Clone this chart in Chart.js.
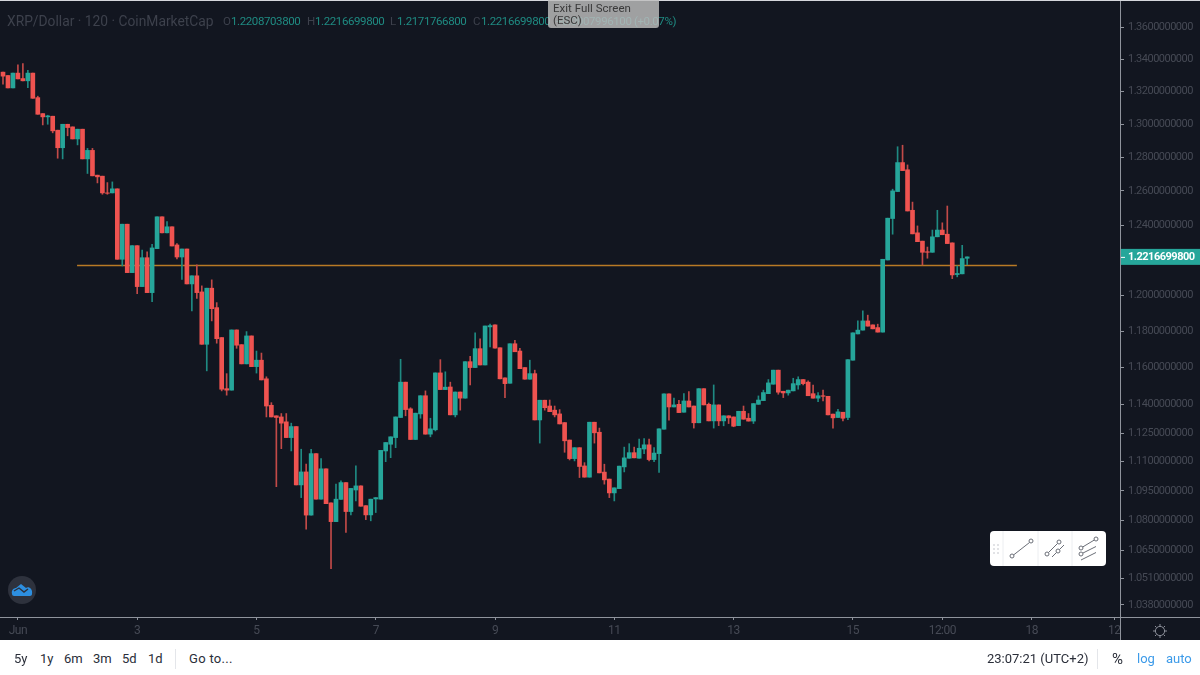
<!DOCTYPE html>
<html>
<head>
<meta charset="utf-8">
<title>XRP/Dollar</title>
<script src="https://cdn.jsdelivr.net/npm/chart.js@4"></script>
<style>
    html, body { margin: 0; padding: 0; background: #fff; width: 1200px; height: 675px; overflow: hidden; }
    body { position: relative; font-family: Roboto, sans-serif; }
    #chart { position: absolute; left: 0; top: 0; }
    .abs { position: absolute; white-space: nowrap; }
    .head { top: 14px; font-size: 11.5px; line-height: 15px; letter-spacing: -0.4px; }
    .name { font-size: 13.8px; letter-spacing: 0; }
    .dim { color: #3d414c; }
    .val { color: #1f8b82; }
    #exit { left: 548px; top: 0; width: 111px; height: 28px; background: rgba(190, 190, 190, 0.82); border-radius: 0 0 3px 3px; color: #3a3a3a; font-size: 11.5px; line-height: 12px; padding: 2px 0 0 5px; box-sizing: border-box; }
    .bar-text { top: 651px; font-size: 13px; line-height: 16px; color: #2a2e39; }
    .blue { color: #3d9be9; }
    .sep { width: 1px; height: 20px; top: 649px; background: #e4e6ea; }
    #tools { left: 990px; top: 531px; width: 116px; height: 35px; background: #fff; border-radius: 4px; }
</style>
</head>
<body>
<canvas id="chart" width="1200" height="640"></canvas>

<div class="abs" style="left:0;top:0;width:1200px;height:1px;background:#d5d7dc"></div>

<div class="abs head name dim" style="left:7px">XRP/Dollar · 120 · CoinMarketCap</div>
<div class="abs head dim" style="left:223px">O</div><div class="abs head val" style="left:231px">1.2208703800</div>
<div class="abs head dim" style="left:307px">H</div><div class="abs head val" style="left:315px">1.2216699800</div>
<div class="abs head dim" style="left:390px">L</div><div class="abs head val" style="left:397px">1.2171766800</div>
<div class="abs head dim" style="left:473px">C</div><div class="abs head val" style="left:481px">1.2216699800</div>
<div class="abs head val" style="left:556px">+0.0007996100 (+0.07%)</div>
<div class="abs" id="exit">Exit Full Screen<br>(ESC)</div>

<svg class="abs" style="left:8px;top:576px" width="28" height="28" viewBox="0 0 28 28">
    <circle cx="14" cy="14" r="14" fill="#2e323d"/>
    <path d="M4 18 C3 14 6 12 8 12 L13 8 L18 12 C20 10 25 12 24 18 C24 19 23 20 22 20 L6 20 C5 20 4 19 4 18 Z" fill="#2d8fe0"/>
    <path d="M6 15 L11 12 L16 16 L20 13" fill="none" stroke="#2e323d" stroke-width="1.4"/>
</svg>

<svg class="abs" style="left:1152px;top:623px" width="16" height="16" viewBox="0 0 16 16">
    <circle cx="8" cy="8" r="4.6" fill="none" stroke="#8b8f99" stroke-width="1"/>
    <path d="M8 1 V3 M8 13 V15 M1 8 H3 M13 8 H15 M3 3 L4.5 4.5 M11.5 11.5 L13 13 M13 3 L11.5 4.5 M3 13 L4.5 11.5" stroke="#8b8f99" stroke-width="1"/>
</svg>

<div class="abs" id="tools">
    <svg width="116" height="35" viewBox="0 0 116 35">
        <g fill="#d8dade">
            <circle cx="4" cy="14" r="1"/><circle cx="8" cy="14" r="1"/>
            <circle cx="4" cy="18" r="1"/><circle cx="8" cy="18" r="1"/>
            <circle cx="4" cy="22" r="1"/><circle cx="8" cy="22" r="1"/>
        </g>
        <path d="M13 0 V35 M48 0 V35 M82 0 V35" stroke="#eceef1"/>
        <g fill="none" stroke="#6b6f78" stroke-width="1">
            <circle cx="22" cy="25" r="2"/><circle cx="41" cy="10" r="2"/><path d="M23.5 24 L39.5 11.5"/>
            <circle cx="57" cy="23" r="2"/><circle cx="69" cy="11" r="2"/><path d="M58.5 21.5 L67.5 12.5"/>
            <circle cx="68" cy="20" r="2"/><path d="M66.5 21.5 L62 26 M69.5 18.5 L74 14"/>
            <circle cx="91" cy="17" r="2"/><circle cx="106" cy="8" r="2"/><path d="M92.7 16 L104.3 9"/>
            <circle cx="91" cy="23" r="2"/><path d="M93 22 L106 15.5 M91 29 L106 21.5"/>
        </g>
    </svg>
</div>

<div class="abs bar-text" style="left:14px">5y</div>
<div class="abs bar-text" style="left:40px">1y</div>
<div class="abs bar-text" style="left:64px">6m</div>
<div class="abs bar-text" style="left:93px">3m</div>
<div class="abs bar-text" style="left:122px">5d</div>
<div class="abs bar-text" style="left:148px">1d</div>
<div class="abs sep" style="left:175px"></div>
<div class="abs bar-text" style="left:189px;letter-spacing:0.3px">Go to...</div>
<div class="abs bar-text" style="left:987px">23:07:21 (UTC+2)</div>
<div class="abs sep" style="left:1097px"></div>
<div class="abs bar-text" style="left:1112px;font-size:15px">%</div>
<div class="abs bar-text blue" style="left:1137px">log</div>
<div class="abs bar-text blue" style="left:1166px">auto</div>

<script>
    // 2h candles, oldest first
    const opens = [
        1.3320,1.3299,1.3222,1.3314,1.3280,1.3266,1.3314,1.3162,1.3064,1.3044,
        1.3048,1.2963,1.2857,1.2999,1.2983,1.2910,1.2969,1.2790,1.2841,1.2693,
        1.2687,1.2588,1.2588,1.2612,1.2203,1.2405,1.2127,1.2281,1.2048,1.2212,
        1.2014,1.2264,1.2448,1.2355,1.2390,1.2285,1.2216,1.2262,1.2063,1.2109,
        1.2018,1.1727,1.2039,1.1930,1.1764,1.1486,1.1478,1.1806,1.1725,1.1620,
        1.1773,1.1605,1.1640,1.1539,1.1397,1.1341,1.1335,1.1309,1.1226,1.1284,
        1.0980,1.1047,1.0826,1.1142,1.0907,1.1063,1.0888,1.0793,1.0906,1.0992,
        1.0844,1.0954,1.0975,1.0874,1.0827,1.0908,1.0907,1.1156,1.1191,1.1226,
        1.1332,1.1521,1.1378,1.1216,1.1351,1.1448,1.1244,1.1267,1.1571,1.1481,
        1.1495,1.1346,1.1468,1.1435,1.1632,1.1600,1.1703,1.1614,1.1823,1.1834,
        1.1708,1.1544,1.1515,1.1730,1.1690,1.1600,1.1537,1.1567,1.1319,1.1424,
        1.1393,1.1371,1.1351,1.1305,1.1213,1.1116,1.1173,1.1078,1.1020,1.1307,
        1.1254,1.1046,1.1010,1.0939,1.0961,1.1073,1.1118,1.1147,1.1118,1.1166,
        1.1188,1.1111,1.1142,1.1270,1.1458,1.1388,1.1402,1.1360,1.1420,1.1393,
        1.1304,1.1486,1.1402,1.1314,1.1399,1.1314,1.1341,1.1335,1.1289,1.1365,
        1.1328,1.1313,1.1402,1.1422,1.1459,1.1510,1.1586,1.1472,1.1463,1.1474,
        1.1506,1.1535,1.1521,1.1459,1.1435,1.1448,1.1445,1.1350,1.1332,1.1360,
        1.1332,1.1640,1.1784,1.1805,1.1856,1.1834,1.1819,1.1794,1.2199,1.2438,
        1.2596,1.2768,1.2725,1.2486,1.2355,1.2307,1.2246,1.2243,1.2332,1.2371,
        1.2347,1.2297,1.2116,1.2120,1.22087
    ];
    const highs = [
        1.3320,1.3299,1.3314,1.3365,1.3373,1.3332,1.3314,1.3171,1.3064,1.3054,
        1.3048,1.2963,1.2999,1.2999,1.2983,1.2969,1.2969,1.2853,1.2853,1.2693,
        1.2687,1.2649,1.2653,1.2612,1.2405,1.2405,1.2281,1.2281,1.2255,1.2245,
        1.2289,1.2448,1.2448,1.2420,1.2390,1.2293,1.2262,1.2262,1.2109,1.2171,
        1.2052,1.2039,1.2086,1.1958,1.1764,1.1567,1.1806,1.1806,1.1725,1.1797,
        1.1773,1.1690,1.1679,1.1550,1.1411,1.1341,1.1353,1.1353,1.1302,1.1284,
        1.1165,1.1087,1.1165,1.1142,1.1116,1.1063,1.0888,1.0984,1.1001,1.0992,
        1.0962,1.1078,1.0975,1.0874,1.0907,1.0915,1.1159,1.1200,1.1230,1.1335,
        1.1645,1.1521,1.1384,1.1355,1.1448,1.1474,1.1328,1.1571,1.1643,1.1577,
        1.1521,1.1468,1.1468,1.1632,1.1661,1.1790,1.1757,1.1828,1.1838,1.1834,
        1.1708,1.1544,1.1730,1.1749,1.1705,1.1600,1.1640,1.1586,1.1424,1.1424,
        1.1425,1.1393,1.1374,1.1305,1.1213,1.1173,1.1173,1.1095,1.1307,1.1307,
        1.1276,1.1087,1.1010,1.0965,1.1077,1.1176,1.1194,1.1176,1.1218,1.1221,
        1.1218,1.1173,1.1272,1.1458,1.1458,1.1435,1.1424,1.1459,1.1470,1.1393,
        1.1486,1.1486,1.1409,1.1506,1.1399,1.1341,1.1341,1.1335,1.1365,1.1393,
        1.1353,1.1406,1.1447,1.1478,1.1535,1.1586,1.1586,1.1472,1.1478,1.1542,
        1.1550,1.1535,1.1528,1.1505,1.1465,1.1478,1.1445,1.1350,1.1376,1.1360,
        1.1643,1.1790,1.1856,1.1912,1.1888,1.1834,1.1838,1.2203,1.2440,1.2610,
        1.2863,1.2872,1.2754,1.2534,1.2395,1.2307,1.2273,1.2371,1.2486,1.2413,
        1.2511,1.2297,1.2165,1.2283,1.22167
    ];
    const lows = [
        1.3245,1.3222,1.3222,1.3278,1.3266,1.3224,1.3158,1.3060,1.2995,1.2999,
        1.2947,1.2794,1.2790,1.2929,1.2910,1.2874,1.2790,1.2703,1.2689,1.2647,
        1.2580,1.2580,1.2588,1.2203,1.2165,1.2127,1.2127,1.2008,1.2048,1.2014,
        1.1963,1.2264,1.2355,1.2355,1.2279,1.2205,1.2088,1.2063,1.1912,1.1982,
        1.1727,1.1582,1.1856,1.1733,1.1474,1.1451,1.1478,1.1705,1.1620,1.1620,
        1.1605,1.1570,1.1533,1.1335,1.1335,1.0971,1.1168,1.1226,1.1156,1.0980,
        1.0915,1.0755,1.0826,1.0907,1.0907,1.0884,1.0558,1.0793,1.0906,1.0738,
        1.0827,1.0898,1.0871,1.0803,1.0797,1.0839,1.0907,1.1100,1.1121,1.1173,
        1.1332,1.1341,1.1216,1.1216,1.1328,1.1244,1.1230,1.1261,1.1481,1.1481,
        1.1346,1.1335,1.1371,1.1435,1.1506,1.1600,1.1614,1.1614,1.1712,1.1706,
        1.1539,1.1438,1.1515,1.1686,1.1594,1.1537,1.1537,1.1319,1.1197,1.1371,
        1.1363,1.1335,1.1298,1.1149,1.1109,1.1104,1.1018,1.1020,1.1020,1.1197,
        1.1042,1.0984,1.0915,1.0898,1.0961,1.1047,1.1118,1.1120,1.1118,1.1142,
        1.1104,1.1100,1.1044,1.1270,1.1318,1.1388,1.1358,1.1360,1.1388,1.1276,
        1.1304,1.1399,1.1314,1.1276,1.1289,1.1288,1.1300,1.1283,1.1289,1.1323,
        1.1313,1.1300,1.1402,1.1422,1.1459,1.1510,1.1456,1.1438,1.1451,1.1474,
        1.1483,1.1506,1.1448,1.1435,1.1416,1.1420,1.1346,1.1276,1.1332,1.1314,
        1.1321,1.1640,1.1784,1.1805,1.1827,1.1812,1.1794,1.1794,1.2199,1.2347,
        1.2596,1.2720,1.2482,1.2349,1.2304,1.2171,1.2209,1.2243,1.2332,1.2344,
        1.2293,1.2093,1.2103,1.2120,1.21718
    ];
    const closes = [
        1.3295,1.3222,1.3314,1.3278,1.3266,1.3314,1.3158,1.3060,1.3044,1.3050,
        1.2959,1.2857,1.2999,1.2979,1.2910,1.2969,1.2790,1.2841,1.2689,1.2683,
        1.2588,1.2586,1.2612,1.2203,1.2405,1.2127,1.2281,1.2048,1.2212,1.2014,
        1.2268,1.2448,1.2355,1.2390,1.2279,1.2216,1.2262,1.2063,1.2109,1.2014,
        1.1727,1.2039,1.1924,1.1758,1.1483,1.1478,1.1806,1.1722,1.1620,1.1773,
        1.1605,1.1640,1.1533,1.1393,1.1335,1.1332,1.1302,1.1226,1.1284,1.0980,
        1.1047,1.0826,1.1142,1.0907,1.1063,1.0884,1.0793,1.0907,1.0992,1.0844,
        1.0962,1.0975,1.0871,1.0827,1.0907,1.0915,1.1159,1.1200,1.1230,1.1335,
        1.1521,1.1374,1.1216,1.1355,1.1448,1.1244,1.1272,1.1571,1.1481,1.1494,
        1.1346,1.1468,1.1435,1.1632,1.1600,1.1703,1.1614,1.1828,1.1830,1.1706,
        1.1539,1.1513,1.1730,1.1686,1.1594,1.1537,1.1567,1.1319,1.1424,1.1384,
        1.1363,1.1346,1.1298,1.1209,1.1116,1.1173,1.1075,1.1020,1.1307,1.1251,
        1.1042,1.1006,1.0939,1.0965,1.1077,1.1120,1.1147,1.1120,1.1170,1.1188,
        1.1111,1.1145,1.1272,1.1458,1.1388,1.1399,1.1358,1.1420,1.1388,1.1304,
        1.1486,1.1399,1.1314,1.1399,1.1314,1.1341,1.1330,1.1286,1.1365,1.1323,
        1.1313,1.1406,1.1425,1.1465,1.1517,1.1586,1.1467,1.1463,1.1478,1.1513,
        1.1535,1.1513,1.1448,1.1435,1.1448,1.1445,1.1346,1.1330,1.1362,1.1328,
        1.1643,1.1790,1.1805,1.1856,1.1827,1.1812,1.1794,1.2203,1.2440,1.2600,
        1.2768,1.2720,1.2482,1.2349,1.2304,1.2243,1.2243,1.2332,1.2371,1.2344,
        1.2293,1.2114,1.2122,1.2207,1.22167
    ];

    const priceTicks = [1.36, 1.34, 1.32, 1.30, 1.28, 1.26, 1.24, 1.20, 1.18, 1.16, 1.14, 1.125, 1.11, 1.095, 1.08, 1.065, 1.051, 1.038];
    const timeTicks = [3, 27, 51, 75, 99, 123, 147, 171, 189, 207, 223.6];
    const timeLabels = ['Jun', '3', '5', '7', '9', '11', '13', '15', '12:00', '18', '12'];

    // the drawn level
    const levelValue = 1.2167;
    const levelFrom = 14.9;
    const levelTo = 204;
    const lastPrice = 1.22166998;

    const UP = '#26a69a';
    const DOWN = '#ef5350';
    const UP_WICK = '#1f8a82';
    const DOWN_WICK = '#c24a48';
    const BG = '#121620';
    const AXIS = '#8f939c';
    const TEXT = '#464a55';

    const isUp = i => closes[i] >= opens[i];
    const bodies = opens.map((o, i) => ({ x: i, y: [o, closes[i]] }));
    const wicks = lows.map((l, i) => ({ x: i, y: [l, highs[i]] }));

    const frame = {
        id: 'frame',
        beforeDraw(chart) {
            const c = chart.ctx;
            c.fillStyle = BG;
            c.fillRect(0, 0, chart.width, chart.height);
            c.letterSpacing = '-0.5px'; // axis digits are narrow in the original font
        },
        afterDraw(chart) {
            const c = chart.ctx;
            const right = chart.chartArea.right;
            const bottom = chart.chartArea.bottom;
            c.save();
            c.strokeStyle = AXIS;
            c.lineWidth = 1;
            c.beginPath();
            c.moveTo(right + 0.5, 0);
            c.lineTo(right + 0.5, chart.height);
            c.moveTo(0, bottom + 0.5);
            c.lineTo(chart.width, bottom + 0.5);
            c.stroke();

            // price tag on the axis
            const y = chart.scales.y.getPixelForValue(lastPrice);
            c.fillStyle = UP;
            c.fillRect(right + 1, y - 8, chart.width - right - 1, 16);
            c.fillStyle = '#fff';
            c.fillRect(right + 1, y, 4, 1);
            c.font = 'bold 11px Roboto';
            c.textBaseline = 'middle';
            c.fillText(lastPrice.toFixed(10), right + 8, y + 0.5);
            c.restore();
        }
    };

    new Chart(document.getElementById('chart'), {
        type: 'bar',
        data: {
            datasets: [
                {
                    type: 'line',
                    data: [{ x: levelFrom, y: levelValue }, { x: levelTo, y: levelValue }],
                    backgroundColor: '#b87a25',
                    borderColor: '#b87a25',
                    borderWidth: 1.5,
                    pointRadius: 0,
                    order: 3
                },
                {
                    data: wicks,
                    backgroundColor: ctx => isUp(ctx.dataIndex) ? UP_WICK : DOWN_WICK,
                    barThickness: 1,
                    grouped: false,
                    order: 2
                },
                {
                    data: bodies,
                    backgroundColor: ctx => isUp(ctx.dataIndex) ? UP : DOWN,
                    barThickness: 4,
                    grouped: false,
                    order: 1
                }
            ]
        },
        options: {
            responsive: false,
            animation: false,
            events: [],
            layout: { padding: 0 },
            plugins: { legend: { display: false }, tooltip: { enabled: false } },
            scales: {
                x: {
                    type: 'linear',
                    position: 'bottom',
                    offset: false,
                    min: -0.604,
                    max: 224.75,
                    afterFit: scale => {
                        scale.height = 23;
                        scale.paddingLeft = 0;
                        scale.paddingRight = 0;
                    },
                    afterBuildTicks: scale => { scale.ticks = timeTicks.map(v => ({ value: v })); },
                    grid: { display: true, offset: false, drawOnChartArea: false, color: AXIS, tickLength: 3 },
                    border: { display: false },
                    ticks: {
                        autoSkip: false,
                        maxRotation: 0,
                        padding: 4,
                        color: TEXT,
                        font: { family: 'Roboto', size: 12 },
                        callback: value => timeLabels[timeTicks.indexOf(value)]
                    }
                },
                y: {
                    type: 'logarithmic',
                    position: 'right',
                    min: 1.03218,
                    max: 1.37774,
                    afterFit: scale => {
                        scale.width = 80;
                        scale.paddingTop = 0;
                        scale.paddingBottom = 0;
                    },
                    afterBuildTicks: scale => { scale.ticks = priceTicks.map(v => ({ value: v })); },
                    grid: { display: true, drawOnChartArea: false, color: AXIS, tickLength: 4 },
                    border: { display: false },
                    ticks: {
                        autoSkip: false,
                        padding: 4,
                        color: TEXT,
                        font: { family: 'Roboto', size: 11 },
                        callback: value => value.toFixed(10)
                    }
                }
            }
        },
        plugins: [frame]
    });
</script>
</body>
</html>
